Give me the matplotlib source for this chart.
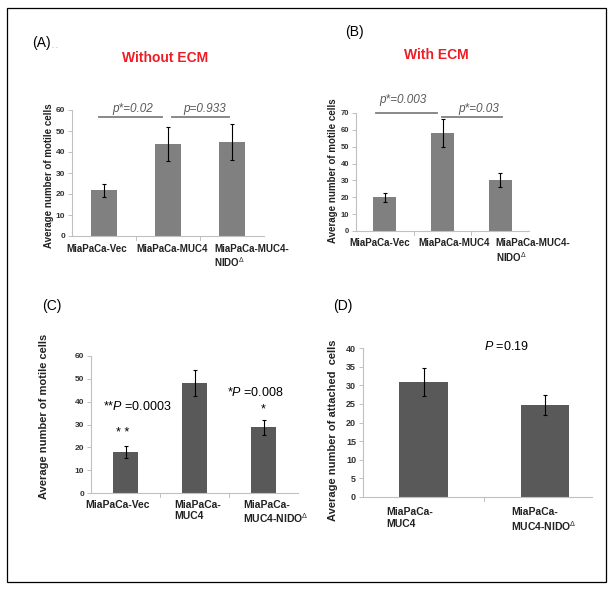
import matplotlib
matplotlib.use("Agg")
import matplotlib.pyplot as plt
from matplotlib.patches import Rectangle

plt.rcParams['font.family'] = ['Liberation Sans', 'DejaVu Sans']
plt.rcParams['mathtext.fontset'] = 'custom'
plt.rcParams['mathtext.rm'] = 'Liberation Sans'
plt.rcParams['mathtext.it'] = 'Liberation Sans:italic'
plt.rcParams['mathtext.bf'] = 'Liberation Sans:bold'

# ---- data ----
labels_ab = ['MiaPaCa-Vec', 'MiaPaCa-MUC4', 'MiaPaCa-MUC4-\nNIDO$^{\\Delta}$']
a_mean = [21.7, 43.8, 44.9]
a_err = [3.0, 8.3, 8.6]
b_mean = [20.0, 58.0, 30.5]
b_err = [2.8, 8.3, 4.2]

labels_c = ['MiaPaCa-Vec', 'MiaPaCa-\nMUC4', 'MiaPaCa-\nMUC4-NIDO$^{\\Delta}$']
c_mean = [18.0, 48.3, 28.7]
c_err = [2.7, 5.6, 3.4]

labels_d = ['MiaPaCa-\nMUC4', 'MiaPaCa-\nMUC4-NIDO$^{\\Delta}$']
d_mean = [30.9, 24.6]
d_err = [3.8, 2.7]

W, H = 613, 591
fig = plt.figure(figsize=(W / 100, H / 100), dpi=100)
fig.patch.set_facecolor('white')


def px_axes(x0, ytop, x1, ybot):
    return fig.add_axes([x0 / W, 1 - ybot / H, (x1 - x0) / W, (ybot - ytop) / H])


def style(ax, ymax, step, tick_fs):
    ax.set_ylim(0, ymax)
    ax.set_yticks(range(0, ymax + 1, step))
    for s in ['top', 'right']:
        ax.spines[s].set_visible(False)
    for s in ['left', 'bottom']:
        ax.spines[s].set_color('#c0c0c0')
        ax.spines[s].set_linewidth(0.8)
    ax.tick_params(axis='y', length=3, width=0.7, color='#c0c0c0', pad=2,
                   labelsize=tick_fs, labelcolor='#333333')
    for t in ax.get_yticklabels():
        t.set_fontweight('bold')
    ax.set_xticks([])


def bars(ax, means, errs, color, width, ncat):
    x = list(range(ncat))
    ax.bar(x, means, width=width, color=color, zorder=2)
    ax.errorbar(x, means, yerr=errs, fmt='none', ecolor='black',
                elinewidth=0.8, capsize=1.6, capthick=0.8, zorder=3)
    for m in [i + 0.5 for i in range(ncat - 1)]:
        ax.plot([m, m], [0, -0.03], transform=ax.get_xaxis_transform(),
                color='#c0c0c0', lw=0.7, clip_on=False)


def cat_labels(ax, labels, xs, y, fs, ha):
    for lab, xx, h in zip(labels, xs, ha):
        ax.text(xx, y, lab, transform=ax.get_xaxis_transform(), fontsize=fs,
                fontweight='bold', ha=h, va='top', multialignment='left',
                color='#222222', linespacing=1.15)


# ---------------- (A) ----------------
axA = px_axes(72, 110, 264, 236)
axA.set_xlim(-0.5, 2.5)
bars(axA, a_mean, a_err, '#808080', 0.41, 3)
style(axA, 60, 10, 6)
cat_labels(axA, labels_ab, [-0.11, 1.06, 1.72], -0.06, 7, ['center', 'center', 'left'])
axA.plot([-0.08, 0.9], [56.7, 56.7], color='#7f7f7f', lw=1.3, clip_on=False)
axA.plot([1.07, 1.95], [56.7, 56.7], color='#7f7f7f', lw=1.3, clip_on=False)
axA.text(0.45, 60.5, 'p*=0.02', style='italic', fontsize=8.5, color='#595959',
         ha='center', va='center', clip_on=False)
axA.text(1.57, 60.5, 'p=0.933', style='italic', fontsize=8.5, color='#595959',
         ha='center', va='center', clip_on=False)
fig.text(49 / W, 1 - 176 / H, 'Average number of motile cells', rotation=90,
         fontsize=7, fontweight='bold', ha='center', va='center', color='#222222')
fig.text(165 / W, 1 - 58 / H, 'Without ECM', fontsize=10, fontweight='bold',
         color='#ee1c24', ha='center', va='center')
fig.text(32 / W, 1 - 43 / H, '(A)', fontsize=10, ha='left', va='center')
fig.text(52 / W, 1 - 46 / H, '. .', fontsize=5, ha='left', va='center', color='#888888')

# ---------------- (B) ----------------
axB = px_axes(356, 113, 529, 231)
axB.set_xlim(-0.5, 2.5)
bars(axB, b_mean, b_err, '#808080', 0.40, 3)
style(axB, 70, 10, 5.5)
cat_labels(axB, labels_ab, [-0.09, 1.2, 1.92], -0.06, 7, ['center', 'center', 'left'])
axB.plot([-0.16, 0.9], [70.2, 70.2], color='#7f7f7f', lw=1.3, clip_on=False)
axB.plot([0.99, 2.03], [67.4, 67.4], color='#7f7f7f', lw=1.3, clip_on=False)
axB.text(0.31, 77.7, 'p*=0.003', style='italic', fontsize=8.5, color='#595959',
         ha='center', va='center', clip_on=False)
axB.text(1.62, 72.4, 'p*=0.03', style='italic', fontsize=8.5, color='#595959',
         ha='center', va='center', clip_on=False)
fig.text(333 / W, 1 - 171 / H, 'Average number of motile cells', rotation=90,
         fontsize=7, fontweight='bold', ha='center', va='center', color='#222222')
fig.text(436 / W, 1 - 55 / H, 'With ECM', fontsize=10, fontweight='bold',
         color='#ee1c24', ha='center', va='center')
fig.text(345 / W, 1 - 32 / H, '(B)', fontsize=10, ha='left', va='center')

# ---------------- (C) ----------------
axC = px_axes(91, 356, 298, 493)
axC.set_xlim(-0.5, 2.5)
bars(axC, c_mean, c_err, '#595959', 0.36, 3)
style(axC, 60, 10, 6)
cat_labels(axC, labels_c, [-0.12, 0.71, 1.7], -0.05, 7.5, ['center', 'left', 'left'])
axC.text(0.17, 37.7, '**$\\it{P}$ =0.0003', fontsize=9, ha='center', va='center')
axC.text(-0.04, 26.3, '* *', fontsize=9, ha='center', va='center')
axC.text(1.88, 43.8, '*$\\it{P}$ =0.008', fontsize=9, ha='center', va='center')
axC.text(2.0, 36.4, '*', fontsize=9, ha='center', va='center')
fig.text(44 / W, 1 - 416 / H, 'Average number of motile cells', rotation=90,
         fontsize=8, fontweight='bold', ha='center', va='center', color='#222222')
fig.text(42 / W, 1 - 306 / H, '(C)', fontsize=10, ha='left', va='center')

# ---------------- (D) ----------------
axD = px_axes(363, 348, 592, 497)
axD.set_xlim(-0.5, 1.39)
bars(axD, d_mean, d_err, '#595959', 0.40, 2)
style(axD, 40, 5, 6.5)
cat_labels(axD, labels_d, [-0.31, 0.72], -0.07, 7.5, ['left', 'left'])
axD.text(0.68, 40.3, '$\\it{P}$ =0.19', fontsize=9, ha='center', va='center',
         clip_on=False)
fig.text(333 / W, 1 - 430 / H, 'Average number of attached  cells', rotation=90,
         fontsize=8, fontweight='bold', ha='center', va='center', color='#222222')
fig.text(333 / W, 1 - 306 / H, '(D)', fontsize=10, ha='left', va='center')

# outer frame
fig.add_artist(Rectangle((7 / W, 1 - 582 / H), 599 / W, 574 / H,
                         transform=fig.transFigure, fill=False,
                         edgecolor='black', lw=0.9))

fig.savefig('out.png', dpi=100)
